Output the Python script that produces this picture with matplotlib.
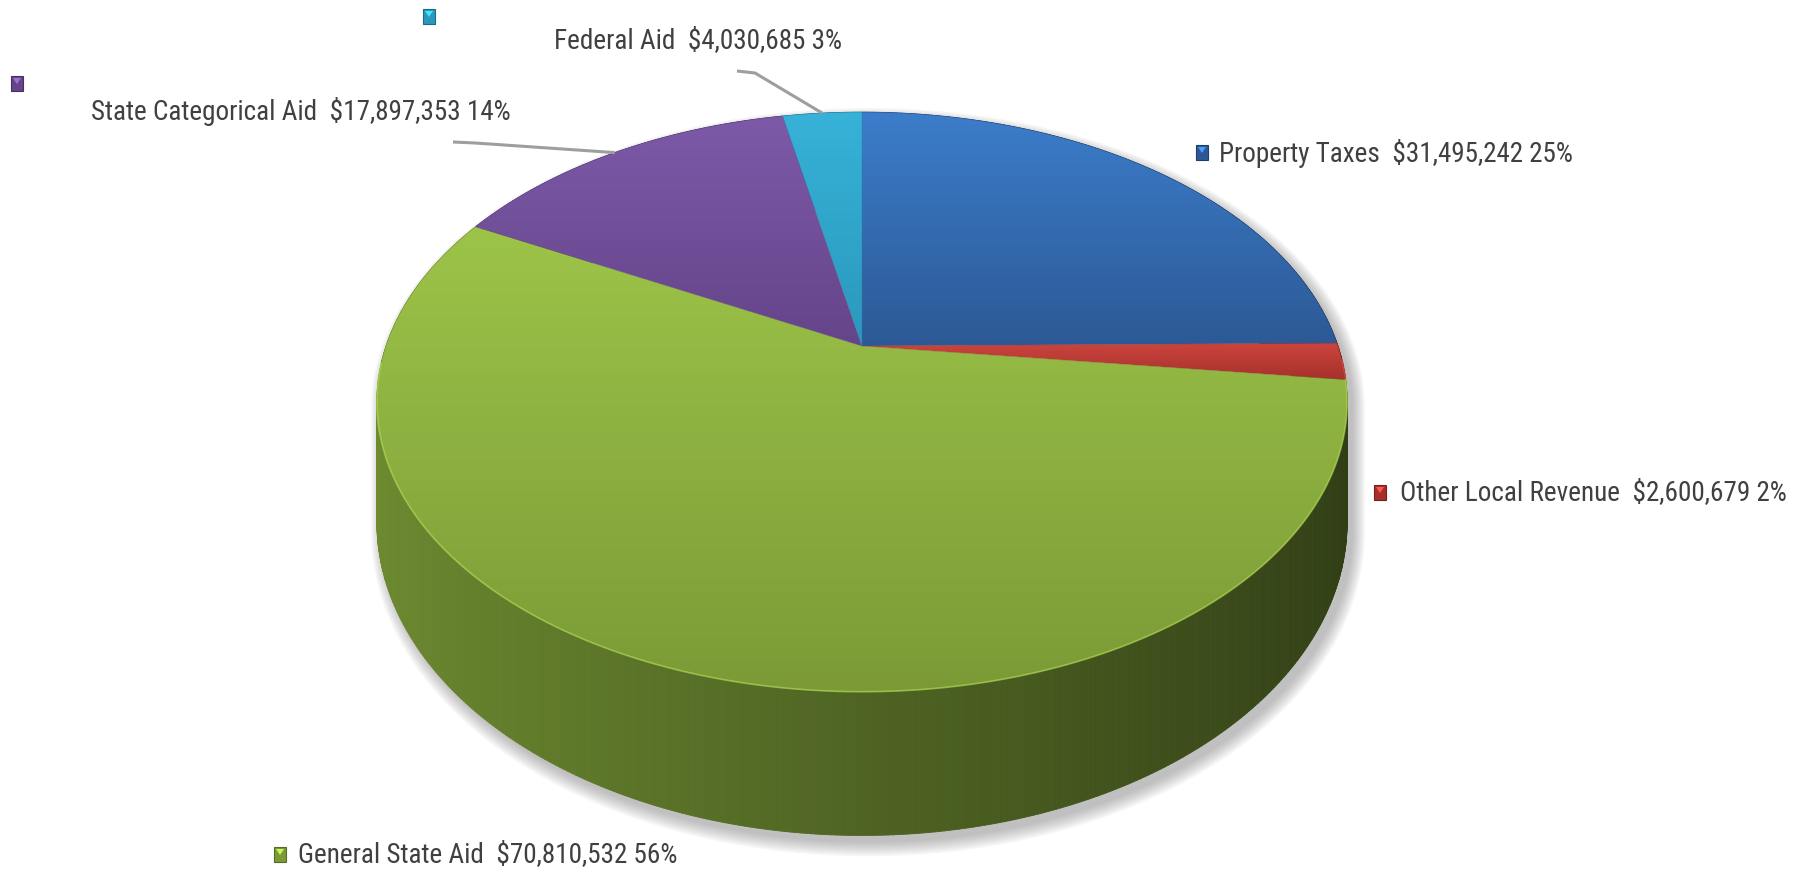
import os
import numpy as np
import matplotlib
matplotlib.use('Agg')
import matplotlib.pyplot as plt
from matplotlib.patches import Polygon, Rectangle
from matplotlib.collections import PolyCollection
from matplotlib import font_manager as fm
from matplotlib.colors import to_rgb

# ---------------- data ----------------
categories = ['Property Taxes', 'Other Local Revenue', 'General State Aid',
              'State Categorical Aid', 'Federal Aid']
values = [31495242, 2600679, 70810532, 17897353, 4030685]
top_light = ['#3C7DCB', '#CC453E', '#9DC449', '#7D5AA8', '#37B2D8']
top_dark = ['#2C5995', '#A5302B', '#7B9A36', '#65448A', '#2A98BC']
side_base = ['#3A72B8', '#BF3A33', '#8DB33E', '#7050A0', '#33A8CC']

# label layout (pixel positions in figure)
label_pos = {'Property Taxes': (1219, 153), 'Other Local Revenue': (1400, 493),
             'General State Aid': (298, 855), 'State Categorical Aid': (91, 112),
             'Federal Aid': (554, 41)}
marker_pos = {'Property Taxes': (1202, 153), 'Other Local Revenue': (1380, 493),
              'General State Aid': (280, 855), 'State Categorical Aid': (17, 84),
              'Federal Aid': (429, 17)}
leader_start = {'State Categorical Aid': [(453, 142), (475, 143)],
                'Federal Aid': [(737, 71), (755, 73)]}

# ---------------- figure ----------------
W, H = 1806, 873
fig = plt.figure(figsize=(W / 100, H / 100), dpi=100)
ax = fig.add_axes([0, 0, 1, 1])
ax.set_xlim(0, W)
ax.set_ylim(H, 0)
ax.axis('off')

cx, cy = 862, 346
rx, ry, k, depth = 476, 279, 0.193, 116


def proj(theta_deg, z=0.0):
    t = np.radians(theta_deg)
    c = np.cos(t)
    s = -np.sin(t)
    d = 1 - k * s
    return cx + rx * c / d, cy + ry * s / d + z * depth / d


vals = np.array(values, dtype=float)
total = vals.sum()
frac = vals / total
cum = np.concatenate([[0], np.cumsum(frac)])
starts = 90 - 360 * cum[:-1]
ends = 90 - 360 * cum[1:]


def convex_hull(pts):
    pts = sorted(set(pts))
    def cross(o, a, b):
        return (a[0] - o[0]) * (b[1] - o[1]) - (a[1] - o[1]) * (b[0] - o[0])
    lower, upper = [], []
    for p in pts:
        while len(lower) >= 2 and cross(lower[-2], lower[-1], p) <= 0:
            lower.pop()
        lower.append(p)
    for p in reversed(pts):
        while len(upper) >= 2 and cross(upper[-2], upper[-1], p) <= 0:
            upper.pop()
        upper.append(p)
    return lower[:-1] + upper[:-1]


# ---------- shadow ----------
th = np.linspace(0, 360, 361)
tx, ty = proj(th, 0)
bx, by = proj(th, 1)
hull = convex_hull([(round(a, 2), round(b, 2)) for a, b in zip(np.r_[tx, bx], np.r_[ty, by])])
hull = np.array(hull)
cxh, cyh = hull[:, 0].mean(), hull[:, 1].mean()
for i, g in enumerate(np.linspace(12, 0, 9)):
    hh = hull.copy()
    hh[:, 0] = cxh + (hh[:, 0] - cxh) * (1 + g / 500) + 6
    hh[:, 1] = cyh + (hh[:, 1] - cyh) * (1 + g / 350) + 7
    ax.add_patch(Polygon(hh, closed=True, facecolor='#707070', edgecolor='none',
                         alpha=0.06, zorder=1))

# ---------- side of cylinder ----------
quads, cols, keys = [], [], []
for i in range(len(values)):
    a0, a1 = starts[i], ends[i]
    n = max(2, int(abs(a1 - a0) / 0.5))
    angs = np.linspace(a0, a1, n + 1)
    base = np.array(to_rgb(side_base[i]))
    for j in range(n):
        ta, tb = angs[j], angs[j + 1]
        xa, ya = proj(ta, 0)
        xb, yb = proj(tb, 0)
        xa2, ya2 = proj(ta, 1)
        xb2, yb2 = proj(tb, 1)
        quads.append([(xa, ya), (xb, yb), (xb2, yb2), (xa2, ya2)])
        tm = np.radians((ta + tb) / 2)
        c = np.cos(tm)
        f = 0.56 - 0.22 * c
        cols.append(np.clip(base * f, 0, 1))
        keys.append(-np.sin(tm))
order = np.argsort(keys)
pc = PolyCollection([quads[o] for o in order], facecolors=[cols[o] for o in order],
                    edgecolors=[cols[o] for o in order], linewidths=0.6, zorder=2)
ax.add_collection(pc)

# ---------- top face ----------
for i in range(len(values)):
    angs = np.linspace(starts[i], ends[i], 200)
    xs, ys = proj(angs, 0)
    poly = np.vstack([[cx, cy], np.column_stack([xs, ys])])
    patch = Polygon(poly, closed=True, facecolor='none', edgecolor='none', zorder=3)
    ax.add_patch(patch)
    y0w, y1w = poly[:, 1].min(), poly[:, 1].max()
    c0 = np.array(to_rgb(top_light[i]))
    c1 = np.array(to_rgb(top_dark[i]))
    tt = np.linspace(0, 1, 256)[:, None]
    grad = (c0[None, :] * (1 - tt) + c1[None, :] * tt)[:, None, :]
    grad = np.repeat(grad, 2, axis=1)
    im = ax.imshow(grad, extent=[cx - rx - 20, cx + rx + 20, y1w + 1, y0w - 1],
                   origin='upper', aspect='auto', interpolation='bilinear', zorder=3)
    im.set_clip_path(patch)
    ax.add_patch(Polygon(poly, closed=True, facecolor='none',
                         edgecolor=top_dark[i], linewidth=0.4, alpha=0.4, zorder=3.1))
    # subtle front rim highlight
    lo, hi = min(starts[i], ends[i]), max(starts[i], ends[i])
    fa = np.linspace(lo, hi, 200)
    fa = fa[np.sin(np.radians(fa)) < -0.05]
    if len(fa) > 1:
        hx, hy = proj(fa, 0)
        hl = np.clip(np.array(to_rgb(top_light[i])) * 1.1 + 0.04, 0, 1)
        ax.plot(hx, hy, color=hl, lw=1.2, alpha=0.6, zorder=3.2,
                solid_capstyle='round')

ax.set_xlim(0, W)
ax.set_ylim(H, 0)


# ---------- font ----------
def pick_font():
    files = [f.fname for f in fm.fontManager.ttflist]
    prefs = ['LiberationSansNarrow-Regular', 'RobotoCondensed-Regular',
             'DejaVuSansCondensed.ttf',
             'OpenSans_Condensed-Regular', 'OpenSansCondensed',
             'NotoSans-Condensed.ttf', 'NotoSans-CondensedRegular']
    for p in prefs:
        for f in files:
            if p in os.path.basename(f):
                return fm.FontProperties(fname=f)
    for f in files:
        b = os.path.basename(f)
        if ('Narrow' in b or 'Condensed' in b) and not any(
                w in b for w in ['Bold', 'Italic', 'Oblique', 'Light', 'Thin', 'Black',
                                 'Medium', 'Semi', 'Extra']):
            return fm.FontProperties(fname=f)
    return fm.FontProperties(family='Liberation Sans')


fp = pick_font()
renderer = fig.canvas.get_renderer()
probe = ax.text(0, 0, 'Property Taxes  $31,495,242 25%', fontproperties=fp, fontsize=18)
wpx = probe.get_window_extent(renderer=renderer).width
probe.remove()
fsize = 18 * 355 / wpx

# ---------- labels ----------
for i, name in enumerate(categories):
    pct = int(round(frac[i] * 100))
    txt = f'{name}  ${values[i]:,} {pct}%'
    x, y = label_pos[name]
    ax.text(x, y, txt, fontproperties=fp, fontsize=fsize, color='#404040',
            ha='left', va='center', zorder=5)
    mx, my = marker_pos[name]
    ax.add_patch(Rectangle((mx - 6, my - 8), 12, 15, facecolor=top_dark[i],
                           edgecolor=np.clip(np.array(to_rgb(top_dark[i])) * 0.7, 0, 1),
                           linewidth=0.8, zorder=5))
    ax.add_patch(Polygon([(mx - 4, my - 6), (mx + 4, my - 6), (mx, my)], closed=True,
                         facecolor=np.clip(np.array(to_rgb(top_light[i])) * 1.25, 0, 1),
                         edgecolor='none', zorder=6))
    if name in leader_start:
        mid = (starts[i] + ends[i]) / 2
        ex, ey = proj(mid, 0)
        pts = leader_start[name] + [(ex, ey)]
        ax.plot([p[0] for p in pts], [p[1] for p in pts], color='#9E9E9E', lw=2.2,
                zorder=4, solid_capstyle='butt')

fig.savefig('out.png', dpi=100, facecolor='white')
